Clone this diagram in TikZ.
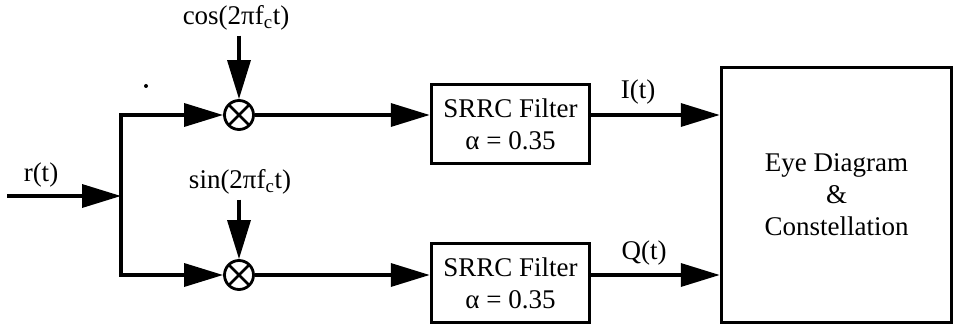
\documentclass[tikz,border=0pt]{standalone}
\usepackage{fontspec}
\setmainfont{Liberation Serif}
\usetikzlibrary{arrows.meta}
\begin{document}
\begin{tikzpicture}[x=1pt,y=-1pt,
  sig/.style={line width=3.5pt,-{Triangle[length=39pt,width=23pt]}},
  blk/.style={draw,line width=3.5pt,inner sep=0pt,align=center,font=\fontsize{27}{32}\selectfont},
  mult/.style={draw,circle,line width=2.8pt,minimum size=29pt,inner sep=0pt,
    path picture={\draw[line width=2.8pt] (path picture bounding box.north west) -- (path picture bounding box.south east)
      (path picture bounding box.north east) -- (path picture bounding box.south west);}},
  lbl/.style={font=\fontsize{27}{31}\selectfont,inner sep=0pt}
]
\useasboundingbox (0,0) rectangle (956,326);
\coordinate (in) at (7,196);
\coordinate (j) at (121,196);
\node[mult] (m1) at (239,115) {};
\node[mult] (m2) at (239,275) {};
\node[blk,minimum width=158pt,minimum height=79pt] (f1) at (510.5,124) {SRRC Filter\\α = 0.35};
\node[blk,minimum width=158pt,minimum height=79pt] (f2) at (510.5,283) {SRRC Filter\\α = 0.35};
\node[blk,minimum width=230pt,minimum height=255pt] (eye) at (836.5,195) {Eye Diagram\\\&\\Constellation};
\node[lbl] (cos) at (236,18) {cos(2πf\textsubscript{c}t)};
\node[lbl] (sin) at (240,182) {sin(2πf\textsubscript{c}t)};
\node[lbl] (r) at (41,175) {r(t)};
\node[lbl] (I) at (638,92) {I(t)};
\node[lbl] (Q) at (644,253) {Q(t)};
\fill (146,86) circle (2pt);
\draw[sig] (in) -- (j);
\draw[sig] (j) |- (m1);
\draw[sig] (j) |- (m2);
\draw[sig] ([yshift=-5pt]cos.south -| m1) -- (m1);
\draw[sig] ([yshift=-5pt]sin.south -| m2) -- (m2);
\draw[sig] (m1) -- (m1 -| f1.west);
\draw[sig] (m2) -- (m2 -| f2.west);
\draw[sig] (f1.east |- m1) -- (eye.west |- m1);
\draw[sig] (f2.east |- m2) -- (eye.west |- m2);
\end{tikzpicture}
\end{document}
